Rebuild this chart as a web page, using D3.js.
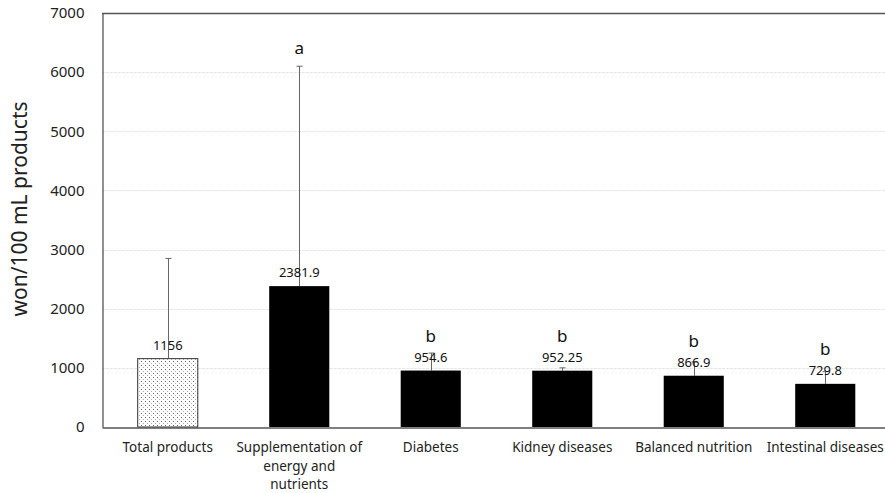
<!DOCTYPE html>
<html>
<head>
<meta charset="utf-8">
<script src="https://cdn.jsdelivr.net/npm/d3@7"></script>
<style>
  html, body { margin: 0; padding: 0; background: #fff; }
  svg { display: block; font-family: "Noto Sans", "Open Sans", sans-serif; }
</style>
</head>
<body>
<svg id="chart" width="885" height="493"></svg>
<script>
// Price per 100 mL by product group
const categories = [
  ["Total products"],
  ["Supplementation of", "energy and", "nutrients"],
  ["Diabetes"],
  ["Kidney diseases"],
  ["Balanced nutrition"],
  ["Intestinal diseases"]
];
const means = [1156, 2381.9, 954.6, 952.25, 866.9, 729.8];
const meanLabels = ["1156", "2381.9", "954.6", "952.25", "866.9", "729.8"];
const upperErrors = [2850, 6100, 1250, 1000, 1100, 935];
const groupLetters = ["", "a", "b", "b", "b", "b"];
const yTicks = [0, 1000, 2000, 3000, 4000, 5000, 6000, 7000];

const svg = d3.select("#chart");
const plotLeft = 102, plotRight = 891, plotTop = 13, plotBottom = 427;

const x = d3.scaleBand()
  .domain(d3.range(categories.length))
  .range([plotLeft, plotRight])
  .paddingInner(0.543)
  .paddingOuter(0.2715);

const y = d3.scaleLinear().domain([0, 7000]).range([plotBottom, plotTop]);

// dotted fill for the total group
const defs = svg.append("defs");
const pat = defs.append("pattern")
  .attr("id", "dots")
  .attr("patternUnits", "userSpaceOnUse")
  .attr("width", 4).attr("height", 4);
pat.append("rect").attr("width", 4).attr("height", 4).attr("fill", "#fff");
pat.append("rect").attr("x", 1).attr("y", 1).attr("width", 1).attr("height", 1).attr("fill", "#666");
pat.append("rect").attr("x", 3).attr("y", 3).attr("width", 1).attr("height", 1).attr("fill", "#aaa");

// gridlines
svg.append("g")
  .selectAll("line")
  .data(yTicks.filter(t => t > 0 && t < 7000))
  .join("line")
  .attr("x1", plotLeft).attr("x2", 885)
  .attr("y1", d => Math.round(y(d)) + 0.5)
  .attr("y2", d => Math.round(y(d)) + 0.5)
  .attr("stroke", "#e6e6e6")
  .attr("stroke-dasharray", "3,1");

// top border
svg.append("line")
  .attr("x1", plotLeft).attr("x2", 885)
  .attr("y1", plotTop + 0.5).attr("y2", plotTop + 0.5)
  .attr("stroke", "#555").attr("stroke-width", 1.3);

// y axis
const yAxis = svg.append("g")
  .attr("transform", `translate(${plotLeft + 0.5},0)`)
  .call(d3.axisLeft(y).tickValues(yTicks).tickFormat(d3.format("d")).tickSize(0).tickPadding(18));
yAxis.select(".domain").attr("stroke", "#555").attr("stroke-width", 1.3);
yAxis.selectAll("text").attr("font-size", 15).attr("font-family", "Noto Sans, sans-serif").attr("fill", "#222");

// error bars (upper only)
const errG = svg.append("g");
means.forEach((m, i) => {
  const cx = Math.round(x(i) + x.bandwidth() / 2) + 0.5;
  errG.append("line")
    .attr("x1", cx).attr("x2", cx)
    .attr("y1", y(m)).attr("y2", y(upperErrors[i]))
    .attr("stroke", "#666").attr("stroke-width", 1);
  errG.append("line")
    .attr("x1", cx - 3).attr("x2", cx + 3)
    .attr("y1", y(upperErrors[i])).attr("y2", y(upperErrors[i]))
    .attr("stroke", "#666").attr("stroke-width", 1);
});

// bars
svg.append("g")
  .selectAll("rect")
  .data(means)
  .join("rect")
  .attr("x", (d, i) => x(i))
  .attr("y", d => y(d))
  .attr("width", x.bandwidth())
  .attr("height", d => plotBottom - y(d))
  .attr("fill", (d, i) => i === 0 ? "url(#dots)" : "#000")
  .attr("stroke", (d, i) => i === 0 ? "#333" : "none")
  .attr("stroke-width", 1);

// x axis
const xAxis = svg.append("g")
  .attr("transform", `translate(0,${plotBottom + 0.5})`)
  .call(d3.axisBottom(x).tickSize(0).tickFormat(""));
xAxis.select(".domain").attr("stroke", "#555").attr("stroke-width", 1.3);

// category labels
const lab = svg.append("g");
categories.forEach((lines, i) => {
  const t = lab.append("text")
    .attr("x", x(i) + x.bandwidth() / 2)
    .attr("y", 452)
    .attr("text-anchor", "middle")
    .attr("font-size", 13.5)
    .attr("fill", "#222");
  lines.forEach((ln, k) => {
    t.append("tspan")
      .attr("x", x(i) + x.bandwidth() / 2)
      .attr("dy", k === 0 ? 0 : 18.5)
      .text(ln);
  });
});

// value labels
svg.append("g")
  .selectAll("text")
  .data(means)
  .join("text")
  .attr("x", (d, i) => x(i) + x.bandwidth() / 2)
  .attr("y", d => y(d) - 9)
  .attr("text-anchor", "middle")
  .attr("font-size", 13)
  .attr("fill", "#111")
  .text((d, i) => meanLabels[i]);

// significance letters
svg.append("g")
  .selectAll("text")
  .data(means)
  .join("text")
  .attr("x", (d, i) => x(i) + x.bandwidth() / 2)
  .attr("y", (d, i) => i === 1 ? y(upperErrors[i]) - 12 : y(d) - 29)
  .attr("text-anchor", "middle")
  .attr("font-size", 17)
  .attr("fill", "#111")
  .text((d, i) => groupLetters[i]);

// y axis title
svg.append("text")
  .attr("transform", `translate(27,209) rotate(-90)`)
  .attr("text-anchor", "middle")
  .attr("font-size", 21)
  .attr("fill", "#222")
  .text("won/100 mL products");
</script>
</body>
</html>
